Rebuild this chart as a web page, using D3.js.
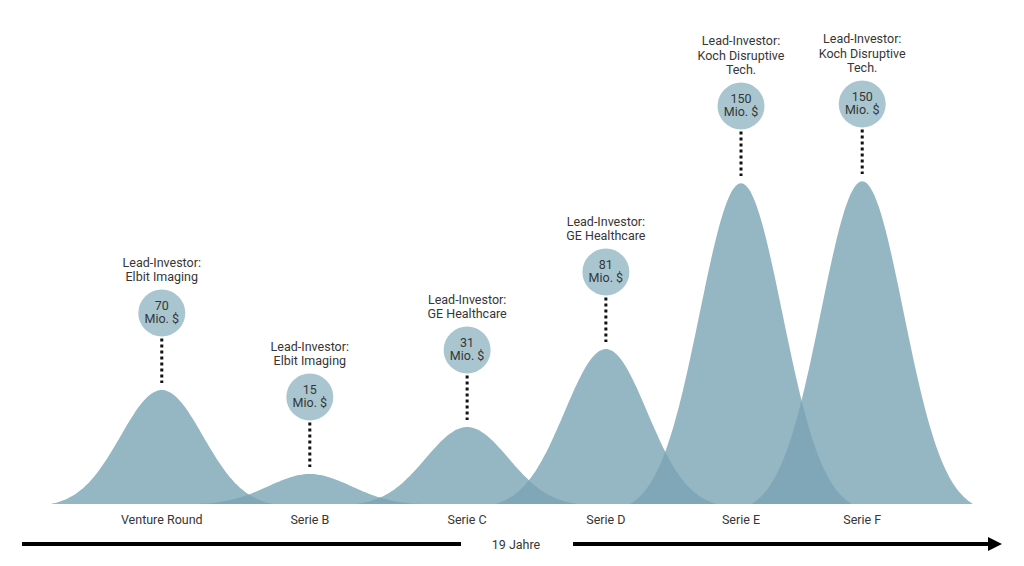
<!DOCTYPE html>
<html><head><meta charset="utf-8">
<script src="https://cdn.jsdelivr.net/npm/d3@7"></script>
<style>
html,body{margin:0;padding:0;background:#fff;}
svg{display:block;}
text{font-family:Roboto,"Liberation Sans",sans-serif;fill:#363636;}
</style></head>
<body>
<svg id="chart" width="1024" height="566"></svg>
<script>
// ---- data ----
const categories = ["Venture Round","Serie B","Serie C","Serie D","Serie E","Serie F"];
const amounts = [70, 15, 31, 81, 150, 150];              // Mio. $
const investors = [
  ["Lead-Investor:","Elbit Imaging"],
  ["Lead-Investor:","Elbit Imaging"],
  ["Lead-Investor:","GE Healthcare"],
  ["Lead-Investor:","GE Healthcare"],
  ["Lead-Investor:","Koch Disruptive","Tech."],
  ["Lead-Investor:","Koch Disruptive","Tech."]
];
const timelineYears = [2.71, 5.58, 8.63, 11.32, 13.94, 16.29]; // position on 19-year timeline
const bumpHeights = [114, 30, 77, 155, 321, 323];              // relative bump height (as drawn)
const totalYears = 19;
const timelineLabel = "19 Jahre";

// ---- layout ----
const svg = d3.select("#chart");
const baseY = 504;
const x = d3.scaleLinear().domain([0, totalYears]).range([22, 1002]);
const y = d3.scaleLinear().domain([0, 330]).range([baseY, baseY - 330]);

const halfW = 2.15, sigma = 0.8;
const e0 = Math.exp(-(halfW*halfW)/(2*sigma*sigma));
function bump(c, h){
  const pts = [];
  const n = 80;
  for(let i=0;i<=n;i++){
    const t = c - halfW + 2*halfW*i/n;
    const g = Math.exp(-((t-c)*(t-c))/(2*sigma*sigma));
    pts.push([t, Math.max(0, h*(g-e0)/(1-e0))]);
  }
  return pts;
}
const area = d3.area()
  .x(d => x(d[0]))
  .y0(y(0))
  .y1(d => y(d[1]))
  .curve(d3.curveBasis);

const data = categories.map((c,i)=>({cat:c, amt:amounts[i], inv:investors[i], t:timelineYears[i], h:bumpHeights[i]}));

svg.append("g").selectAll("path").data(data).join("path")
  .attr("d", d => area(bump(d.t, d.h)))
  .attr("fill", "rgb(122,164,180)")
  .attr("fill-opacity", 0.8);

// annotations
const g = svg.append("g").selectAll("g").data(data).join("g");
const cyOf = d => y(d.h) - 77;
const R = 23.5;
g.append("line")
  .attr("x1", d => x(d.t)).attr("x2", d => x(d.t))
  .attr("y1", d => cyOf(d) + R + 2).attr("y2", d => y(d.h) - 7)
  .attr("stroke", "#111").attr("stroke-width", 3)
  .attr("stroke-dasharray", "3,3");
g.append("circle")
  .attr("cx", d => x(d.t)).attr("cy", cyOf).attr("r", R)
  .attr("fill", "#a9c6d0");
g.append("text")
  .attr("x", d => x(d.t)).attr("y", d => cyOf(d) - 3.5)
  .attr("text-anchor","middle").attr("font-size", 12.5)
  .text(d => d.amt);
g.append("text")
  .attr("x", d => x(d.t)).attr("y", d => cyOf(d) + 9.5)
  .attr("text-anchor","middle").attr("font-size", 12.5)
  .text("Mio. $");
g.each(function(d){
  const sel = d3.select(this);
  const n = d.inv.length;
  d.inv.forEach((line, k) => {
    sel.append("text")
      .attr("x", x(d.t))
      .attr("y", cyOf(d) - 32 - (n-1-k)*14.5)
      .attr("text-anchor","middle").attr("font-size", 12.5)
      .text(line);
  });
});

// category axis labels
svg.append("g").selectAll("text").data(data).join("text")
  .attr("x", d => x(d.t)).attr("y", 524)
  .attr("text-anchor","middle").attr("font-size", 12.5)
  .text(d => d.cat);

// timeline arrow
const midX = x(totalYears/2) + 4;
svg.append("line").attr("x1", x(0)).attr("x2", midX - 55).attr("y1", 544).attr("y2", 544)
  .attr("stroke","#000").attr("stroke-width",4);
svg.append("line").attr("x1", midX + 57).attr("x2", x(totalYears) - 12).attr("y1", 544).attr("y2", 544)
  .attr("stroke","#000").attr("stroke-width",4);
svg.append("path")
  .attr("d", `M${x(totalYears)},544 L${x(totalYears)-14},537 L${x(totalYears)-14},551 Z`)
  .attr("fill","#000");
svg.append("text").attr("x", midX).attr("y", 549)
  .attr("text-anchor","middle").attr("font-size", 12.5)
  .text(timelineLabel);
</script>
</body></html>
